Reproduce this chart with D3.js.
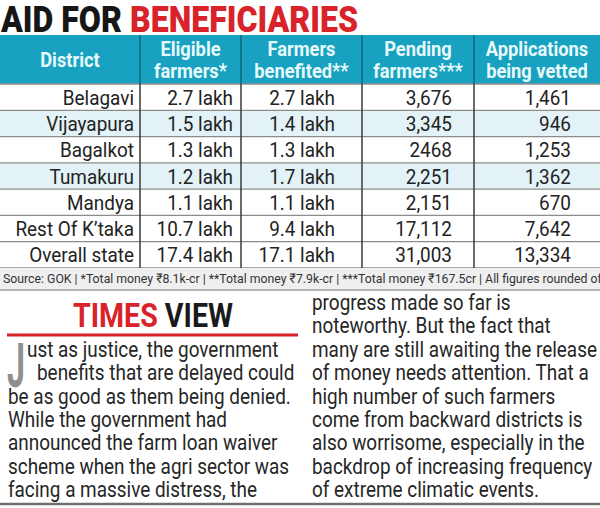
<!DOCTYPE html>
<html>
<head>
<meta charset="utf-8">
<script src="https://cdn.jsdelivr.net/npm/d3@7"></script>
<style>
  html, body { margin: 0; padding: 0; background: #fff; }
  svg { display: block; }
  text { font-family: Roboto, "Open Sans", sans-serif; }
</style>
</head>
<body>
<script>
// ---------- DATA ----------
const districts = ["Belagavi", "Vijayapura", "Bagalkot", "Tumakuru", "Mandya", "Rest Of K\u2019taka", "Overall state"];
const eligibleFarmers = ["2.7 lakh", "1.5 lakh", "1.3 lakh", "1.2 lakh", "1.1 lakh", "10.7 lakh", "17.4 lakh"];
const farmersBenefited = ["2.7 lakh", "1.4 lakh", "1.3 lakh", "1.7 lakh", "1.1 lakh", "9.4 lakh", "17.1 lakh"];
const pendingFarmers = ["3,676", "3,345", "2468", "2,251", "2,151", "17,112", "31,003"];
const applicationsVetted = ["1,461", "946", "1,253", "1,362", "670", "7,642", "13,334"];
const columnKeys = ["district", "eligible", "benefited", "pending", "vetted"];
const columnHeaders = [["District"], ["Eligible", "farmers*"], ["Farmers", "benefited**"], ["Pending", "farmers***"], ["Applications", "being vetted"]];
const titleBlack = "AID FOR ";
const titleRed = "BENEFICIARIES";
const sourceNote = "Source: GOK | *Total money \u20b98.1k-cr | **Total money \u20b97.9k-cr | ***Total money \u20b9167.5cr | All figures rounded off";
const viewRed = "TIMES";
const viewBlack = " VIEW";
const dropCap = "J";
const leftLines = [
  "ust as justice, the government",
  "benefits that are delayed could",
  "be as good as them being denied.",
  "While the government had",
  "announced the farm loan waiver",
  "scheme when the agri sector was",
  "facing a massive distress, the"
];
const rightLines = [
  "progress made so far is",
  "noteworthy. But the fact that",
  "many are still awaiting the release",
  "of money needs attention. That a",
  "high number of such farmers",
  "come from backward districts is",
  "also worrisome, especially in the",
  "backdrop of increasing frequency",
  "of extreme climatic events."
];

const rows = districts.map((d, i) => ({
  district: d, eligible: eligibleFarmers[i], benefited: farmersBenefited[i],
  pending: pendingFarmers[i], vetted: applicationsVetted[i], i
}));

// ---------- LAYOUT ----------
const W = 600, H = 508;
const svg = d3.select("body").append("svg").attr("width", W).attr("height", H);

function condense(sel, f) {
  sel.each(function () {
    const w = this.getComputedTextLength();
    this.setAttribute("textLength", w * f);
    this.setAttribute("lengthAdjust", "spacingAndGlyphs");
  });
}
function fitTo(sel, w) {
  sel.attr("textLength", w).attr("lengthAdjust", "spacingAndGlyphs");
}

// Title
const title = svg.append("text").attr("x", 1).attr("y", 32)
  .attr("font-size", 37).attr("font-weight", 900);
title.append("tspan").attr("fill", "#161616").text(titleBlack);
title.append("tspan").attr("fill", "#d8232a").text(titleRed);
fitTo(title, 357);

// Column edges
const colEdges = [0, 140, 241, 362, 474, 600];
const colX = d3.scaleOrdinal().domain(columnKeys).range(colEdges.slice(0, 5));
const colW = k => colEdges[columnKeys.indexOf(k) + 1] - colX(k);
const rightAnchor = d3.scaleOrdinal().domain(columnKeys).range([134, 233, 335, 452, 571]);

const headerTop = 35, headerBottom = 84;
const y = d3.scaleBand().domain(d3.range(rows.length)).range([headerBottom, 268]);

// Header band
svg.append("rect").attr("x", 0).attr("y", headerTop).attr("width", W)
  .attr("height", headerBottom - headerTop).attr("fill", "#18a1c0");

// Row backgrounds
svg.append("g").selectAll("rect").data(rows).join("rect")
  .attr("x", 0).attr("y", d => y(d.i)).attr("width", W).attr("height", y.bandwidth())
  .attr("fill", d => (d.i === 1 || d.i === 3) ? "#e2f2f6" : "#ffffff");

// Horizontal row lines
svg.append("g").selectAll("line").data(d3.range(rows.length + 1)).join("line")
  .attr("x1", 0).attr("x2", W)
  .attr("y1", i => i < rows.length ? y(i) : y.range()[1])
  .attr("y2", i => i < rows.length ? y(i) : y.range()[1])
  .attr("stroke", "#8c8c8c").attr("stroke-width", 1.3);

// Vertical separators
svg.append("g").selectAll("line").data(colEdges.slice(1, 5)).join("line")
  .attr("x1", d => d).attr("x2", d => d)
  .attr("y1", headerTop).attr("y2", headerBottom)
  .attr("stroke", "#0c6479").attr("stroke-width", 1.5);
svg.append("g").selectAll("line").data(colEdges.slice(1, 5)).join("line")
  .attr("x1", d => d).attr("x2", d => d)
  .attr("y1", headerBottom).attr("y2", y.range()[1])
  .attr("stroke", "#3a3a3a").attr("stroke-width", 1.5);

// Header text
const hdr = svg.append("g");
columnKeys.forEach((k, ci) => {
  const lines = columnHeaders[ci];
  const cx = colX(k) + colW(k) / 2;
  const baseYs = lines.length === 1 ? [67] : [56, 78];
  lines.forEach((t, li) => {
    const tx = hdr.append("text").attr("x", cx).attr("y", baseYs[li])
      .attr("text-anchor", "middle").attr("font-size", 21).attr("font-weight", 700)
      .attr("fill", "#e6fafc").text(t);
    condense(tx, 0.87);
  });
});

// Cell text
const body = svg.append("g");
rows.forEach(r => {
  columnKeys.forEach(k => {
    const tx = body.append("text")
      .attr("x", rightAnchor(k)).attr("y", y(r.i) + y.bandwidth() / 2 + 7.5)
      .attr("text-anchor", "end").attr("font-size", 21).attr("fill", "#222")
      .text(r[k]);
    condense(tx, 0.9);
  });
});

// Source band
svg.append("rect").attr("x", 0).attr("y", 268).attr("width", W).attr("height", 21).attr("fill", "#efefef");
const src = svg.append("text").attr("x", 3).attr("y", 283).attr("font-size", 13.5).attr("fill", "#333").text(sourceNote);
fitTo(src, 603);
svg.append("line").attr("x1", 0).attr("x2", W).attr("y1", 290).attr("y2", 290)
  .attr("stroke", "#9a9a9a").attr("stroke-width", 1.5);

// TIMES VIEW
const tv = svg.append("text").attr("x", 73).attr("y", 327).attr("font-size", 34).attr("font-weight", 700);
tv.append("tspan").attr("fill", "#d8232a").text(viewRed);
tv.append("tspan").attr("fill", "#1a1a1a").text(viewBlack);
fitTo(tv, 160);
svg.append("line").attr("x1", 7).attr("x2", 298).attr("y1", 335).attr("y2", 335)
  .attr("stroke", "#d8232a").attr("stroke-width", 3);

// Drop cap
const dc = svg.append("text").attr("x", 7).attr("y", 387).attr("font-size", 62)
  .attr("font-weight", 700).attr("fill", "#8f8f8f").text(dropCap);
fitTo(dc, 18);

// Paragraph lines
const lineY = d3.scaleLinear().domain([0, 8]).range([310, 497]);
const leftStart = [27, 37, 8, 8, 8, 8, 8];
leftLines.forEach((t, i) => {
  const tx = svg.append("text").attr("x", leftStart[i]).attr("y", lineY(i + 2))
    .attr("font-size", 22).attr("fill", "#262626").text(t);
  condense(tx, 0.86);
});
rightLines.forEach((t, i) => {
  const tx = svg.append("text").attr("x", 312).attr("y", lineY(i))
    .attr("font-size", 22).attr("fill", "#262626").text(t);
  condense(tx, 0.86);
});

// Bottom rule
svg.append("line").attr("x1", 0).attr("x2", W).attr("y1", 504).attr("y2", 504)
  .attr("stroke", "#6f6f6f").attr("stroke-width", 2.5);
</script>
</body>
</html>
